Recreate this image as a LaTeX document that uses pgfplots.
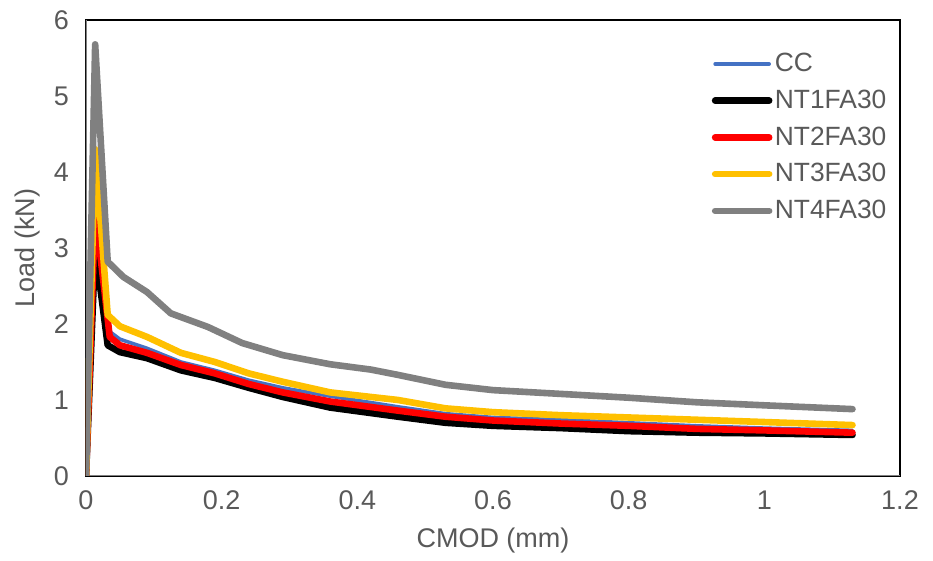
\documentclass[border=0pt]{standalone}
\usepackage{pgfplots}
\pgfplotsset{compat=1.18}
\usepackage{fontspec}
\setmainfont{Liberation Sans}

\definecolor{ccblue}{HTML}{4472C4}
\definecolor{ntred}{HTML}{FF0000}
\definecolor{ntyellow}{HTML}{FFC000}
\definecolor{ntgray}{HTML}{808080}
\definecolor{txtgray}{HTML}{595959}

\begin{document}
\begin{tikzpicture}
\begin{axis}[
  scale only axis,
  width=407pt, height=228pt,
  xmin=0, xmax=1.2, ymin=0, ymax=6,
  xtick={0,0.2,...,1.2}, ytick={0,1,...,6},
  major tick length=0pt,
  axis line style={black, line width=1pt},
  font=\fontsize{13.5}{16}\selectfont,
  ticklabel style={text=txtgray},
  /pgf/number format/assume math mode=true,
  xticklabel style={yshift=-4pt},
  yticklabel style={xshift=-5pt},
  xlabel={CMOD (mm)}, ylabel={Load (kN)},
  label style={text=txtgray},
  xlabel style={at={(axis description cs:0.5,-0.1425)}, anchor=center},
  ylabel style={at={(axis description cs:-0.072,0.5)}, anchor=center, rotate=0},
  every axis plot/.append style={line join=round, line cap=round},
  legend cell align=left,
  legend style={at={(rel axis cs:0.761,0.942)}, anchor=north west,
    draw=none, fill=none, text=txtgray, row sep=5.25pt,
    font=\fontsize{13.2}{16}\selectfont,
    nodes={inner sep=1.2pt}},
  legend image code/.code={\draw[#1] (0pt,0pt) -- (27pt,0pt);},
]
\draw[ntgray, line width=1.4pt] (rel axis cs:0,1) -- (rel axis cs:0,0) -- (rel axis cs:1,0);

% CC
\addplot[ccblue, line width=1.8pt] coordinates {
  (0,0) (0.0135,3.25) (0.032,1.92) (0.05,1.80) (0.09,1.68) (0.14,1.50)
  (0.19,1.39) (0.24,1.26) (0.29,1.16) (0.36,1.05) (0.46,0.91) (0.53,0.82)
  (0.6,0.77) (0.7,0.74) (0.8,0.70) (0.9,0.66) (1.0,0.63) (1.13,0.60)
};
\addlegendentry{CC}
% NT1FA30
\addplot[black, line width=3.3pt] coordinates {
  (0,0) (0.0135,3.00) (0.032,1.72) (0.05,1.63) (0.09,1.55) (0.14,1.39)
  (0.19,1.29) (0.24,1.16) (0.29,1.04) (0.36,0.90) (0.46,0.78) (0.53,0.70)
  (0.6,0.66) (0.7,0.63) (0.8,0.59) (0.9,0.57) (1.0,0.56) (1.13,0.54)
};
\addlegendentry{NT1FA30}
% NT2FA30
\addplot[ntred, line width=3.3pt] coordinates {
  (0,0) (0.0135,3.50) (0.035,1.83) (0.05,1.72) (0.09,1.62) (0.14,1.46)
  (0.19,1.35) (0.24,1.21) (0.29,1.10) (0.36,0.98) (0.46,0.86) (0.53,0.78)
  (0.6,0.73) (0.7,0.69) (0.8,0.66) (0.9,0.62) (1.0,0.60) (1.13,0.57)
};
\addlegendentry{NT2FA30}
% NT3FA30
\addplot[ntyellow, line width=3.3pt] coordinates {
  (0,0) (0.0135,4.30) (0.032,2.12) (0.05,1.97) (0.09,1.83) (0.14,1.62)
  (0.19,1.50) (0.24,1.35) (0.29,1.24) (0.36,1.10) (0.46,1.00) (0.53,0.89)
  (0.6,0.84) (0.7,0.80) (0.8,0.77) (0.9,0.74) (1.0,0.71) (1.13,0.67)
};
\addlegendentry{NT3FA30}
% NT4FA30
\addplot[ntgray, line width=3.3pt] coordinates {
  (0,0) (0.0135,5.68) (0.032,2.82) (0.055,2.62) (0.09,2.42) (0.125,2.14)
  (0.18,1.96) (0.23,1.75) (0.29,1.59) (0.36,1.47) (0.42,1.40) (0.46,1.33)
  (0.53,1.20) (0.6,1.13) (0.7,1.08) (0.8,1.03) (0.9,0.97) (1.0,0.93) (1.13,0.88)
};
\addlegendentry{NT4FA30}
\end{axis}
\path ([shift={(-43pt,-40.5pt)}]current axis.south west)
  rectangle ([shift={(16.5pt,10pt)}]current axis.north east);
\end{tikzpicture}
\end{document}
